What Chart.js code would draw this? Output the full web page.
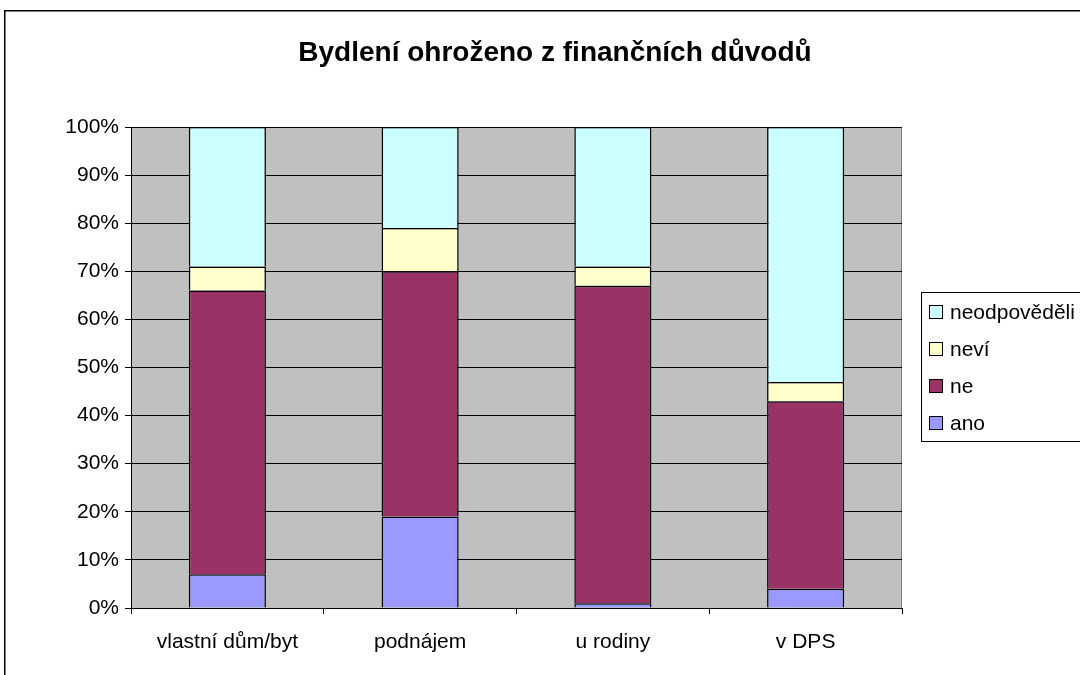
<!DOCTYPE html>
<html><head><meta charset="utf-8">
<script src="https://cdn.jsdelivr.net/npm/chart.js@4/dist/chart.umd.min.js"></script>
<style>html,body{margin:0;padding:0;background:#fff}canvas{display:block}</style>
</head><body>
<canvas id="c" width="1080" height="675"></canvas>
<script>
const chartTitle = 'Bydlení ohroženo z finančních důvodů';
const categories = ['vlastní dům/byt', 'podnájem', 'u rodiny', 'v DPS'];
const seriesNames = ['ano', 'ne', 'neví', 'neodpověděli'];
const ano = [7, 19, 1, 4];
const ne = [59, 51, 66, 39];
const nevi = [5, 9, 4, 4];
const neodpovedeli = [29, 21, 29, 53];
const yTickValues = [0, 10, 20, 30, 40, 50, 60, 70, 80, 90, 100];
const colors = ['#9999FF', '#993366', '#FFFFCC', '#CCFFFF'];

const FONT = '"Liberation Sans", Arial, sans-serif';
const values = [ano, ne, nevi, neodpovedeli];

const decor = {
  id: 'decor',
  beforeDraw(chart) {
    const ctx = chart.ctx, a = chart.chartArea;
    ctx.save();
    ctx.fillStyle = '#fff';
    ctx.fillRect(0, 0, chart.width, chart.height);
    ctx.strokeStyle = '#000';
    ctx.lineWidth = 1.5;
    ctx.strokeRect(4.75, 10.75, 1200, 1000);
    ctx.fillStyle = '#C0C0C0';
    ctx.fillRect(a.left, a.top, a.right - a.left, a.bottom - a.top);
    ctx.strokeStyle = '#808080';
    ctx.lineWidth = 1;
    ctx.beginPath();
    ctx.moveTo(a.left, a.top + 0.5);
    ctx.lineTo(a.right - 0.5, a.top + 0.5);
    ctx.lineTo(a.right - 0.5, a.bottom);
    ctx.stroke();
    ctx.restore();
  },
  afterDraw(chart) {
    const ctx = chart.ctx;
    ctx.save();
    // title
    ctx.fillStyle = '#000';
    ctx.font = 'bold 28px ' + FONT;
    ctx.textAlign = 'center';
    ctx.textBaseline = 'middle';
    ctx.fillText(chartTitle, 555, 53);
    // legend
    ctx.strokeStyle = '#000';
    ctx.lineWidth = 1;
    ctx.strokeRect(921.5, 292.5, 400, 149);
    ctx.font = '21px ' + FONT;
    ctx.textAlign = 'left';
    const ds = chart.data.datasets;
    const ys = [312, 349, 386, 423];
    for (let i = 0; i < ds.length; i++) {
      const d = ds[ds.length - 1 - i];
      const y = ys[i];
      ctx.fillStyle = d.backgroundColor;
      ctx.fillRect(929.5, y - 6.5, 13, 13);
      ctx.strokeRect(929.5, y - 6.5, 13, 13);
      ctx.fillStyle = '#000';
      ctx.fillText(d.label, 950, y + 1);
    }
    ctx.restore();
  }
};

new Chart(document.getElementById('c'), {
  type: 'bar',
  data: {
    labels: categories,
    datasets: seriesNames.map((n, i) => ({
      label: n,
      data: values[i],
      backgroundColor: colors[i],
      borderColor: '#000',
      borderWidth: 1.5,
      categoryPercentage: 1,
      barPercentage: 0.4
    }))
  },
  options: {
    responsive: false,
    animation: false,
    devicePixelRatio: 1,
    layout: { padding: { left: 0, top: 127, right: 178, bottom: 0 } },
    plugins: { legend: { display: false }, title: { display: false }, tooltip: { enabled: false } },
    scales: {
      x: {
        stacked: true,
        offset: true,
        grid: { offset: true, drawOnChartArea: false, drawTicks: true, tickLength: 6, color: '#000', lineWidth: 1 },
        border: { color: '#000', width: 1 },
        ticks: { color: '#000', font: { family: FONT, size: 21 }, padding: 16, maxRotation: 0 },
        afterFit(s) { s.height = 67; }
      },
      y: {
        stacked: true,
        min: 0, max: 100,
        afterBuildTicks(s) { s.ticks = yTickValues.map(v => ({ value: v })); },
        grid: { color: '#000', lineWidth: 1, drawTicks: true, tickLength: 6 },
        border: { color: '#000', width: 1 },
        ticks: { color: '#000', font: { family: FONT, size: 21 }, padding: 6, callback: v => v + '%' },
        afterFit(s) { s.width = 131; }
      }
    }
  },
  plugins: [decor]
});
</script>
</body></html>
